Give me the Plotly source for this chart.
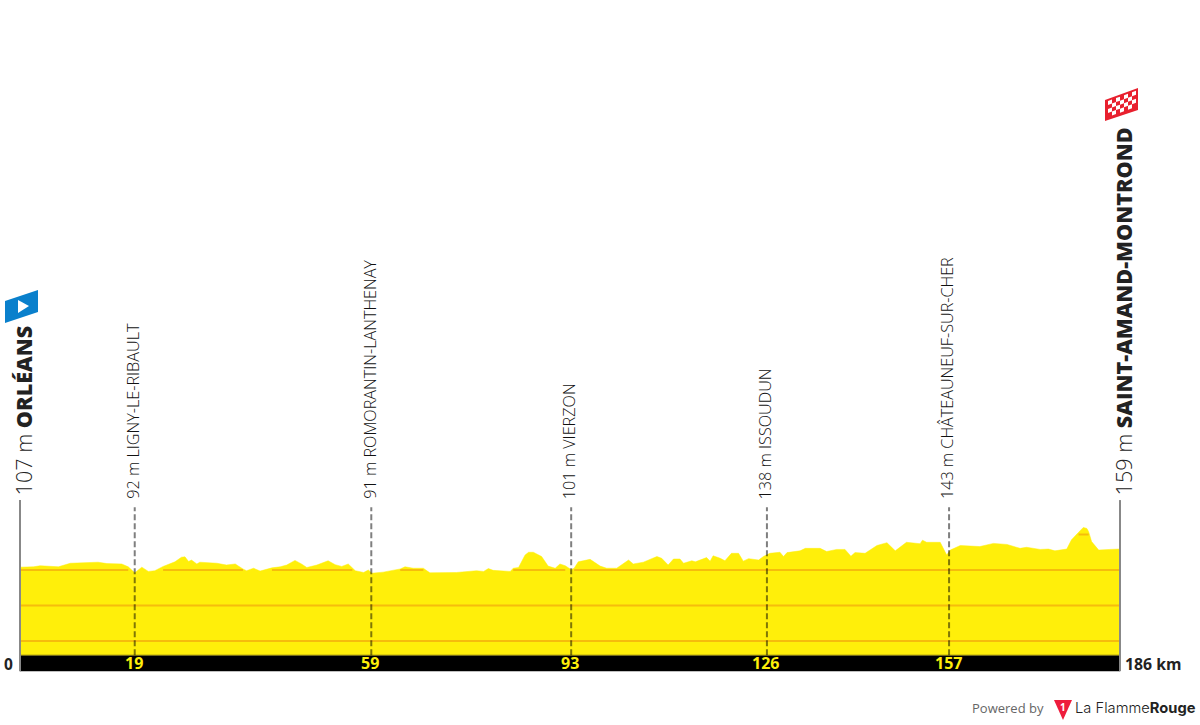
import plotly.graph_objects as go

# Stage profile
km = [0, 2.3, 3.4, 6.5, 8.5, 10.1, 13.2, 14.7, 17.2, 18.3, 19.4, 20.6, 21.7, 22.8, 24.2, 26.2, 27.3, 27.9, 28.5, 29.0,
      29.9, 30.4, 33.3, 34.9, 36.4, 37.7, 38.3, 39.5, 40.6, 42.6, 44.0, 45.1, 46.5, 47.6, 48.5, 50.2, 52.1, 53.3, 54.4, 55.5,
      56.2, 56.7, 58.1, 58.9, 59.5, 61.4, 64.3, 65.1, 66.5, 68.2, 69.3, 71.0, 73.8, 77.2, 78.4, 79.2, 80.0, 82.9, 83.4, 84.3,
      85.4, 86.0, 86.8, 88.2, 88.9, 89.3, 90.5, 91.3, 92.2, 93.2, 93.7, 94.4, 96.4, 98.1, 99.2, 100.9, 102.9, 103.7,
      105.4, 106.3, 107.7, 108.5, 109.6, 110.5, 111.6, 112.2, 113.6, 114.2, 116.1, 116.7, 117.2, 118.4, 119.2, 120.3,
      121.5, 122.3, 123.2, 124.9, 125.7, 126.8, 128.5, 129.1, 129.7, 131.9, 132.8, 135.3, 136.4, 138.1, 139.5, 140.5,
      141.2, 142.9, 144.9, 146.6, 148.0, 149.9, 152.2, 152.6, 153.3, 155.6, 156.7, 157.3, 159.0, 162.3, 164.6, 166.9,
      169.1, 170.2, 172.5, 173.9, 175.0, 177.0, 177.8, 179.0, 179.8, 180.4, 180.7, 181.2, 182.4, 184.3, 186]
elevation = [108, 109, 112, 109, 119, 120, 122, 118, 117, 109, 92, 108, 96, 98, 110, 123, 136, 137, 124, 128,
             117, 122, 119, 114, 117, 103, 98, 105, 97, 106, 109, 114, 127, 117, 107, 114, 126, 115, 110, 117,
             106, 98, 93, 100, 91, 94, 103, 109, 105, 105, 92, 92, 93, 98, 96, 104, 99, 96, 105, 107,
             142, 150, 150, 138, 119, 111, 105, 117, 112, 101, 105, 123, 130, 111, 105, 105, 128, 117,
             122, 128, 138, 133, 114, 131, 131, 119, 126, 123, 135, 125, 140, 133, 126, 147,
             147, 125, 132, 128, 138, 147, 150, 138, 149, 154, 161, 161, 152, 158, 158, 139,
             149, 147, 169, 177, 154, 178, 174, 184, 178, 178, 142, 156, 169, 166, 175, 172,
             161, 164, 158, 159, 154, 159, 185, 206, 220, 217, 208, 180, 156, 158, 159]

start_name = "ORLÉANS"
start_alt = 107
finish_name = "SAINT-AMAND-MONTROND"
finish_alt = 159
distance = 186

via_names = ["LIGNY-LE-RIBAULT", "ROMORANTIN-LANTHENAY", "VIERZON", "ISSOUDUN", "CHÂTEAUNEUF-SUR-CHER"]
via_alts = [92, 91, 101, 138, 143]
via_km = [19.4, 59.4, 93.2, 126.3, 157.1]
via_labels = ["19", "59", "93", "126", "157"]

grid_levels = [200, 100, 0, -100]

YELLOW = "#FFEF0A"
ORANGE = "#F6BC0C"
DARK = "#222222"
GREY = "#888888"
FONT = "Open Sans"

BASE = -140
STRIP = -185


# pixel helper for the logo and flags, they are not data
def path(points):
    return "M " + " L ".join(f"{x / 1200:.5f},{1 - y / 725:.5f}" for x, y in points) + " Z"


def deco(points, color):
    return dict(type="path", xref="paper", yref="paper", path=path(points), fillcolor=color, line_width=0, layer="above")


fig = go.Figure()

# Yellow area, sits on a flat baseline
fig.add_trace(go.Scatter(x=km, y=[BASE] * len(km), mode="lines", line=dict(width=0), hoverinfo="skip"))
fig.add_trace(go.Scatter(x=km, y=elevation, mode="lines", line=dict(width=0.5, color=YELLOW),
                         fill="tonexty", fillcolor=YELLOW))

# Height lines only show where the profile is above them
for level in grid_levels:
    grid_y = [level if e >= level + 3 else None for e in elevation]
    fig.add_trace(go.Scatter(x=km, y=grid_y, mode="lines", line=dict(width=2, color=ORANGE), hoverinfo="skip"))

shapes = [dict(type="rect", xref="x", yref="y", x0=0, x1=distance, y0=STRIP, y1=BASE,
               fillcolor="black", line_width=0, layer="above")]
shapes.append(dict(type="line", xref="x", yref="y", x0=0, x1=distance, y0=BASE, y1=BASE,
                   line=dict(color="#8A7F10", width=1), layer="above"))

for k in [0, distance]:
    shapes.append(dict(type="line", xref="x", yref="y", x0=k, x1=k, y0=STRIP, y1=297,
                       line=dict(color=GREY, width=2), layer="above"))
for k in via_km:
    shapes.append(dict(type="line", xref="x", yref="y", x0=k, x1=k, y0=BASE, y1=277,
                       line=dict(color="rgba(0,0,0,0.5)", width=2, dash="6px,3px"), layer="above"))

# Start flag
shapes.append(deco([(5, 301), (38, 290), (38, 312), (5, 323)], "#0A80CC"))
shapes.append(deco([(18, 300), (29, 306), (18, 313)], "white"))

# Finish flag, white checks on red
shapes.append(deco([(1105, 100), (1138, 88), (1138, 110), (1105, 121)], "#E8202E"))
for col in range(7):
    for row in range(4):
        if (col + row) % 2 == 0:
            x0 = 1108 + col * 4
            x1 = x0 + 4
            y0 = 101 - col * 1.45 + row * 4
            shapes.append(deco([(x0, y0), (x1, y0 - 1.45), (x1, y0 + 2.55), (x0, y0 + 4)], "white"))

# Logo
shapes.append(deco([(1054, 700), (1072, 700), (1063, 720)], "#EE1C3C"))

annotations = []


def label(x, y, text, size, color=DARK, angle=0, xanchor="center", yanchor="middle", xshift=0,
          family=FONT, ref="data", weight=400):
    annotations.append(dict(x=x, y=y, text=text, showarrow=False, textangle=angle,
                            xanchor=xanchor, yanchor=yanchor, xshift=xshift,
                            xref="x" if ref == "data" else "paper", yref="y" if ref == "data" else "paper",
                            font=dict(family=family, size=size, color=color, weight=weight),
                            borderpad=0, borderwidth=0))


def heavy(text):
    return f'<span style="font-weight:800">{text}</span>'


label(0, 310, f"{start_alt} m {heavy(start_name)}", 21.6, angle=-90, yanchor="bottom", xshift=3, weight=300)
label(distance, 310, f"{finish_alt} m {heavy(finish_name)}", 21.6, angle=-90, yanchor="bottom", xshift=3, weight=300)

for name, alt, k, tick in zip(via_names, via_alts, via_km, via_labels):
    label(k, 300, f"{alt} m {name}", 16.2, color="#111111", angle=-90, yanchor="bottom", xshift=-2, weight=300)
    label(k, -162, f"<b>{tick}</b>", 16, color=YELLOW, xshift=-1)

label(-1.9, -165, "<b>0</b>", 15.5)
label(distance + 0.8, -165, f"<b>{distance} km</b>", 15.8, xanchor="left")

label(1044 / 1200, 1 - 708 / 725, "Powered by", 13, color="#666666", xanchor="right", ref="paper")
label(1063 / 1200, 1 - 707 / 725, "<b>1</b>", 10, color="white", ref="paper")
label(1075 / 1200, 1 - 708 / 725, "La Flamme<b>Rouge</b>", 14.7, color="#222222", xanchor="left",
      family="Inter", ref="paper", weight=300)

fig.update_layout(
    width=1200, height=725,
    margin=dict(l=0, r=0, t=0, b=0),
    paper_bgcolor="white", plot_bgcolor="white",
    showlegend=False,
    xaxis=dict(visible=False, range=[-3.382, 199.53]),
    yaxis=dict(visible=False, range=[-336.6, 1705.6]),
    shapes=shapes,
    annotations=annotations,
)

fig.write_html("out.html", config=dict(displayModeBar=False), post_script='document.body.style.margin = "0";')
